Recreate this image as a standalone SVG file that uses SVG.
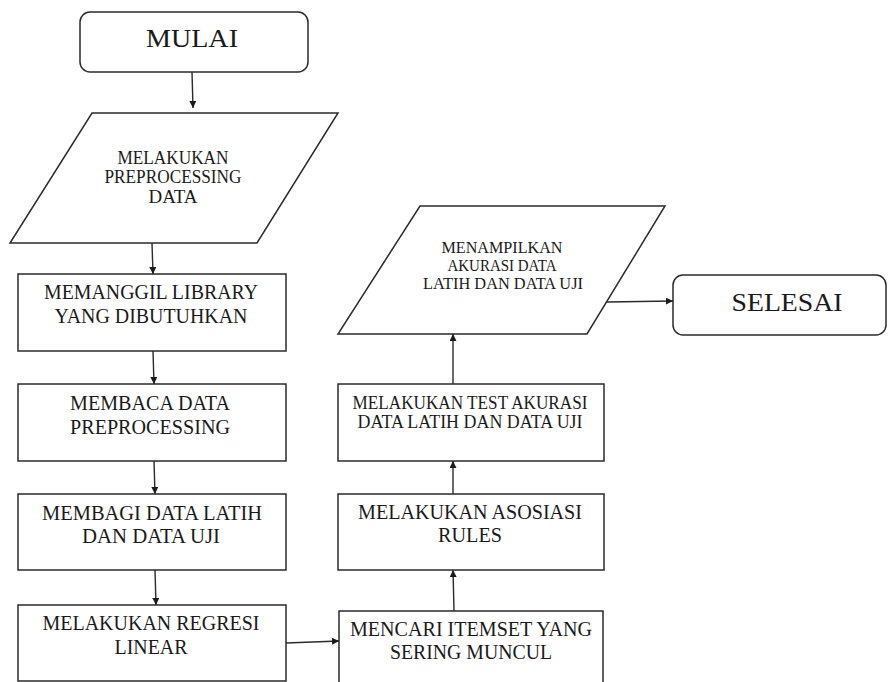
<svg xmlns="http://www.w3.org/2000/svg" width="889" height="682" viewBox="0 0 889 682">
  <style>
    .shape { fill: #ffffff; stroke: #2b2b2b; stroke-width: 1.5; }
    .lbl { font-family: "Liberation Serif", "Times New Roman", serif; fill: #1a1a1a; text-anchor: middle; }
    .big { font-size: 26px; }
    .box { font-size: 21px; }
    .mid { font-size: 19px; }
    .io1 { font-size: 19px; }
    .io2 { font-size: 17px; }
    .edge { fill: none; stroke: #2b2b2b; stroke-width: 1.4; marker-end: url(#arrow); }
  </style>
  <defs>
    <marker id="arrow" viewBox="0 0 10 10" refX="10" refY="5" markerWidth="7" markerHeight="7" markerUnits="userSpaceOnUse" orient="auto">
      <path d="M0,0 L10,5 L0,10 z" fill="#1a1a1a"/>
    </marker>
  </defs>
  <rect width="889" height="682" fill="#ffffff"/>

  <g id="mulai">
    <rect class="shape" x="80" y="12" width="228" height="60" rx="10" ry="10"/>
    <text class="lbl big" x="192" y="47" textLength="92" lengthAdjust="spacingAndGlyphs">MULAI</text>
  </g>

  <g id="preprocessing">
    <polygon class="shape" points="92,113 338,113 257,243 10,243"/>
    <text class="lbl io1" x="173" y="164" textLength="111" lengthAdjust="spacingAndGlyphs">MELAKUKAN</text>
    <text class="lbl io1" x="173" y="183" textLength="137" lengthAdjust="spacingAndGlyphs">PREPROCESSING</text>
    <text class="lbl io1" x="173" y="203" textLength="49" lengthAdjust="spacingAndGlyphs">DATA</text>
  </g>

  <g id="library">
    <rect class="shape" x="18" y="274" width="268" height="77"/>
    <text class="lbl box" x="151" y="299" textLength="214" lengthAdjust="spacingAndGlyphs">MEMANGGIL LIBRARY</text>
    <text class="lbl box" x="151" y="323" textLength="193" lengthAdjust="spacingAndGlyphs">YANG DIBUTUHKAN</text>
  </g>

  <g id="baca-data">
    <rect class="shape" x="18" y="384" width="268" height="77"/>
    <text class="lbl box" x="150" y="410" textLength="160" lengthAdjust="spacingAndGlyphs">MEMBACA DATA</text>
    <text class="lbl box" x="150" y="434" textLength="160" lengthAdjust="spacingAndGlyphs">PREPROCESSING</text>
  </g>

  <g id="bagi-data">
    <rect class="shape" x="18" y="494" width="268" height="76"/>
    <text class="lbl box" x="152" y="520" textLength="220" lengthAdjust="spacingAndGlyphs">MEMBAGI DATA LATIH</text>
    <text class="lbl box" x="151" y="543" textLength="138" lengthAdjust="spacingAndGlyphs">DAN DATA UJI</text>
  </g>

  <g id="regresi">
    <rect class="shape" x="18" y="605" width="268" height="76"/>
    <text class="lbl box" x="151" y="630" textLength="217" lengthAdjust="spacingAndGlyphs">MELAKUKAN REGRESI</text>
    <text class="lbl box" x="151" y="654" textLength="73" lengthAdjust="spacingAndGlyphs">LINEAR</text>
  </g>

  <g id="itemset">
    <rect class="shape" x="339" y="611" width="264" height="80"/>
    <text class="lbl box" x="471" y="636" textLength="242" lengthAdjust="spacingAndGlyphs">MENCARI ITEMSET YANG</text>
    <text class="lbl box" x="471" y="659" textLength="162" lengthAdjust="spacingAndGlyphs">SERING MUNCUL</text>
  </g>

  <g id="asosiasi">
    <rect class="shape" x="338" y="494" width="266" height="76"/>
    <text class="lbl box" x="470" y="519" textLength="224" lengthAdjust="spacingAndGlyphs">MELAKUKAN ASOSIASI</text>
    <text class="lbl box" x="470" y="542" textLength="64" lengthAdjust="spacingAndGlyphs">RULES</text>
  </g>

  <g id="test-akurasi">
    <rect class="shape" x="338" y="384" width="266" height="77"/>
    <text class="lbl mid" x="470" y="409" textLength="235" lengthAdjust="spacingAndGlyphs">MELAKUKAN TEST AKURASI</text>
    <text class="lbl mid" x="470" y="428" textLength="225" lengthAdjust="spacingAndGlyphs">DATA LATIH DAN DATA UJI</text>
  </g>

  <g id="tampil-akurasi">
    <polygon class="shape" points="420,206 665,206 587,334 338,334"/>
    <text class="lbl io2" x="502" y="253" textLength="121" lengthAdjust="spacingAndGlyphs">MENAMPILKAN</text>
    <text class="lbl io2" x="502" y="271" textLength="109" lengthAdjust="spacingAndGlyphs">AKURASI DATA</text>
    <text class="lbl io2" x="503" y="289" textLength="160" lengthAdjust="spacingAndGlyphs">LATIH DAN DATA UJI</text>
  </g>

  <g id="selesai">
    <rect class="shape" x="673" y="275" width="213" height="60" rx="10" ry="10"/>
    <text class="lbl big" x="787" y="311" textLength="111" lengthAdjust="spacingAndGlyphs">SELESAI</text>
  </g>

  <g id="connectors">
    <line class="edge" x1="192" y1="72" x2="193" y2="108"/>
    <line class="edge" x1="152" y1="243" x2="153" y2="274"/>
    <line class="edge" x1="153" y1="351" x2="154" y2="384"/>
    <line class="edge" x1="154" y1="461" x2="155" y2="494"/>
    <line class="edge" x1="155" y1="570" x2="156" y2="605"/>
    <line class="edge" x1="286" y1="643" x2="339" y2="641"/>
    <line class="edge" x1="454" y1="611" x2="453" y2="570"/>
    <line class="edge" x1="453" y1="494" x2="453" y2="461"/>
    <line class="edge" x1="453" y1="384" x2="453" y2="334"/>
    <line class="edge" x1="607" y1="302" x2="673" y2="301"/>
  </g>
</svg>
